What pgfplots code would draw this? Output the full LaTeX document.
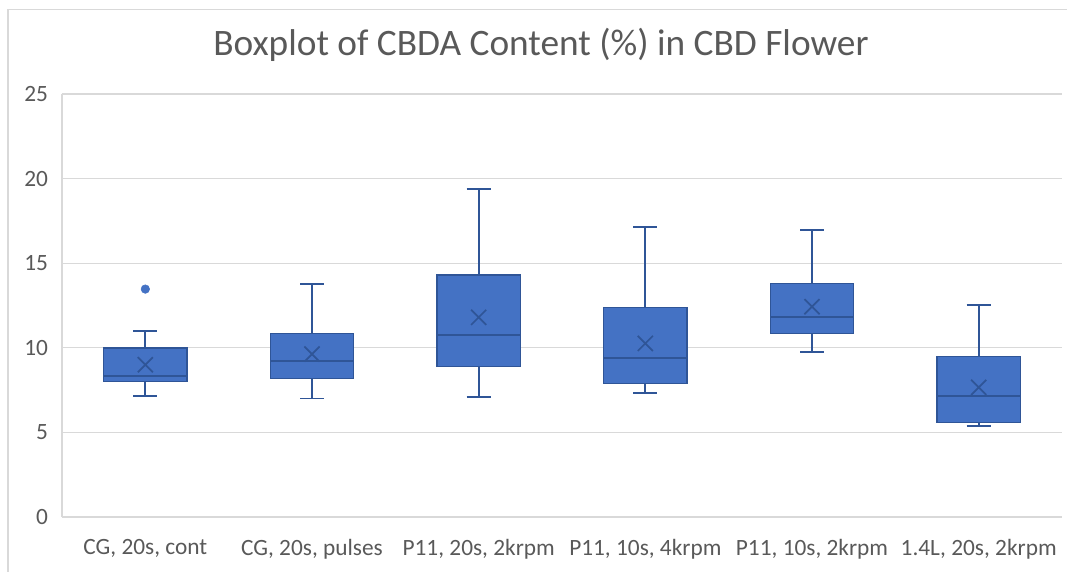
\documentclass[border=0pt]{standalone}
\usepackage{pgfplots}
\pgfplotsset{compat=1.18}
\usepgfplotslibrary{statistics}
\usepackage{fontspec}
\setmainfont{Carlito}
\definecolor{boxfill}{HTML}{4472C4}
\definecolor{boxedge}{HTML}{2F5597}
\definecolor{txt}{HTML}{595959}
\definecolor{gridc}{HTML}{D9D9D9}
\begin{document}
\begin{tikzpicture}
\useasboundingbox (-46.5pt,-40.5pt) rectangle (753.75pt,387.75pt);
\draw[gridc,line width=0.8pt] (-40.5pt,-45pt) -- (-40.5pt,380.5pt) -- (760pt,380.5pt);
\begin{axis}[
  at={(0,0)}, anchor=south west,
  scale only axis, width=750pt, height=317.25pt,
  xmin=-0.5, xmax=5.5, ymin=0, ymax=25,
  ytick={0,5,...,25},
  xtick={0,1,2,3,4,5},
  xticklabels={{CG, 20s, cont},{CG, 20s, pulses},{P11, 20s, 2krpm},{P11, 10s, 4krpm},{P11, 10s, 2krpm},{1.4L, 20s, 2krpm}},
  axis x line=bottom, axis y line=left,
  axis line style={gridc, line width=0.8pt, -},
  major tick length=0pt,
  ymajorgrids, grid style={gridc, line width=0.8pt},
  yticklabel style={font=\fontsize{17.5}{19}\selectfont, text=txt, xshift=-7pt},
  xticklabel style={font=\fontsize{17.5}{19}\selectfont, text=txt, yshift=-13pt},
  /pgf/number format/assume math mode=true,
  clip=false,
  boxplot/draw direction=y,
  boxplot/box extend=0.5,
  boxplot/whisker extend=0.144,
  boxplot/every box/.style={draw=boxedge, fill=boxfill, line width=1.1pt},
  boxplot/every whisker/.style={draw=boxedge, line width=1.4pt},
  boxplot/every median/.style={draw=boxedge, line width=1.3pt},
  boxplot/every average/.style={/tikz/mark=x, /tikz/mark size=8pt},
  bx/.style={color=boxedge, line width=1.3pt, mark options={draw=boxedge, line width=0.9pt}},
]
\addplot[bx, boxplot prepared={draw position=0, lower whisker=7.17, lower quartile=8.0, median=8.33, upper quartile=10.0, upper whisker=11.0, average=9.0}] coordinates {};
\addplot[only marks, mark=*, mark size=3.2pt, mark options={fill=boxfill, draw=boxfill}] coordinates {(0,13.47)};
\addplot[bx, boxplot prepared={draw position=1, lower whisker=7.0, lower quartile=8.2, median=9.24, upper quartile=10.86, upper whisker=13.75, average=9.63}] coordinates {};
\addplot[bx, boxplot prepared={draw position=2, lower whisker=7.07, lower quartile=8.88, median=10.76, upper quartile=14.3, upper whisker=19.39, average=11.8}] coordinates {};
\addplot[bx, boxplot prepared={draw position=3, lower whisker=7.31, lower quartile=7.88, median=9.38, upper quartile=12.37, upper whisker=17.12, average=10.26}] coordinates {};
\addplot[bx, boxplot prepared={draw position=4, lower whisker=9.73, lower quartile=10.83, median=11.82, upper quartile=13.79, upper whisker=16.96, average=12.43}] coordinates {};
\addplot[bx, boxplot prepared={draw position=5, lower whisker=5.4, lower quartile=5.6, median=7.15, upper quartile=9.5, upper whisker=12.53, average=7.66}] coordinates {};
\end{axis}
\node[font=\fontsize{28}{32}\selectfont, text=txt] at (359.25pt,354pt) {Boxplot of CBDA Content (\%) in CBD Flower};
\end{tikzpicture}
\end{document}
